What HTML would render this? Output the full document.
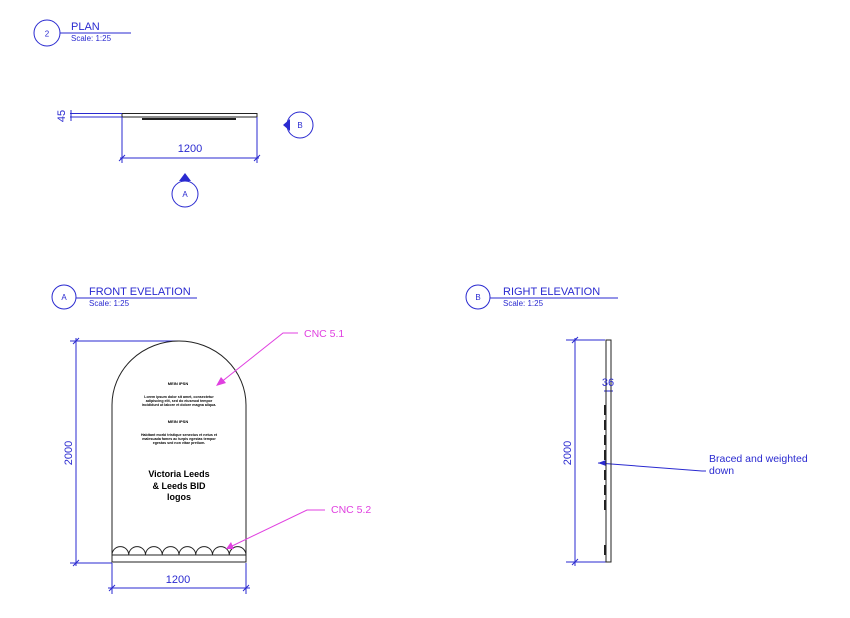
<!DOCTYPE html>
<html><head><style>
html,body{margin:0;padding:0;background:#fff;width:850px;height:618px;overflow:hidden}
svg{display:block;font-family:"Liberation Sans",Arial,sans-serif}
</style></head><body>
<svg width="850" height="618" viewBox="0 0 850 618" xmlns="http://www.w3.org/2000/svg">
<g stroke="#2a2ad0" fill="none" stroke-width="1">
<!-- plan title -->
<circle cx="47" cy="33" r="13"/>
<line x1="60" y1="33" x2="131" y2="33"/>
<!-- plan -->
<rect x="122" y="113.5" width="135" height="3.5" stroke="#222"/>
<line x1="70" y1="113.5" x2="122" y2="113.5"/>
<line x1="70" y1="117" x2="122" y2="117"/>
<line x1="71" y1="110" x2="71" y2="121"/>
<line x1="120" y1="158" x2="259" y2="158"/>
<line x1="122" y1="117" x2="122" y2="163"/>
<line x1="257" y1="117" x2="257" y2="163"/>
<line x1="119" y1="161" x2="125" y2="155"/>
<line x1="254" y1="161" x2="260" y2="155"/>
<circle cx="300" cy="125" r="13"/>
<circle cx="185" cy="194" r="13"/>
<!-- front elevation -->
<circle cx="64" cy="297" r="12"/>
<line x1="76" y1="298" x2="197" y2="298"/>
<line x1="76" y1="338" x2="76" y2="566"/>
<line x1="70" y1="341" x2="178" y2="341"/>
<line x1="70" y1="563" x2="112" y2="563"/>
<line x1="73" y1="344" x2="79" y2="338"/>
<line x1="73" y1="566" x2="79" y2="560"/>
<line x1="108" y1="588" x2="250" y2="588"/>
<line x1="112" y1="563" x2="112" y2="594"/>
<line x1="246" y1="563" x2="246" y2="594"/>
<line x1="109" y1="591" x2="115" y2="585"/>
<line x1="243" y1="591" x2="249" y2="585"/>
<!-- right elevation -->
<circle cx="478" cy="297" r="12"/>
<line x1="490" y1="298" x2="618" y2="298"/>
<line x1="575" y1="338" x2="575" y2="566"/>
<line x1="566" y1="340" x2="605" y2="340"/>
<line x1="566" y1="562" x2="606" y2="562"/>
<line x1="572" y1="343" x2="578" y2="337"/>
<line x1="572" y1="565" x2="578" y2="559"/>
<line x1="604" y1="391" x2="613" y2="391"/>
<line x1="606" y1="388" x2="606" y2="396"/>
<polyline points="598,463 702,471 706,471"/>
</g>
<g fill="#2a2ad0">
<path d="M283,125 L290,119 L290,131 Z"/>
<path d="M185,173 L179,181 L191,181 Z"/>
<path d="M598,463 L606,460 L606,466 Z"/>
</g>
<g fill="none" stroke="#222" stroke-width="1">
<line x1="142" y1="119" x2="236" y2="119" stroke-width="2"/>
<path d="M112,562 L112,405 A67,64 0 0 1 246,405 L246,562 Z"/>
<line x1="112" y1="555" x2="246" y2="555"/>
<path d="M112,555 a8.375,8.375 0 0 1 16.75,0 a8.375,8.375 0 0 1 16.75,0 a8.375,8.375 0 0 1 16.75,0 a8.375,8.375 0 0 1 16.75,0 a8.375,8.375 0 0 1 16.75,0 a8.375,8.375 0 0 1 16.75,0 a8.375,8.375 0 0 1 16.75,0 a8.375,8.375 0 0 1 16.75,0"/>
<rect x="606" y="340" width="5" height="222"/>
<path d="M605,405 v10 M605,420 v10 M605,435 v10 M605,450 v10 M605,470 v10 M605,485 v10 M605,500 v10 M605,545 v10" stroke-width="2"/>
</g>
<g stroke="#e040e0" fill="none" stroke-width="1">
<polyline points="298,333 283,333 220,383"/>
<polyline points="325,510 307,510 230,547"/>
</g>
<g fill="#e040e0">
<path d="M216,386 L221,377 L226,383 Z"/>
<path d="M226,549 L231,542 L234,549 Z"/>
</g>
<g fill="#2a2ad0">
<text x="47" y="36.5" font-size="8" text-anchor="middle">2</text>
<text x="71" y="30" font-size="11">PLAN</text>
<text x="71" y="41" font-size="8">Scale: 1:25</text>
<text x="190" y="152" font-size="11" text-anchor="middle">1200</text>
<text transform="translate(65,116) rotate(-90)" font-size="11" text-anchor="middle">45</text>
<text x="300" y="128" font-size="8" text-anchor="middle">B</text>
<text x="185" y="197" font-size="8" text-anchor="middle">A</text>
<text x="64" y="300" font-size="8" text-anchor="middle">A</text>
<text x="89" y="295" font-size="11">FRONT EVELATION</text>
<text x="89" y="306" font-size="8">Scale: 1:25</text>
<text transform="translate(72,453) rotate(-90)" font-size="11" text-anchor="middle">2000</text>
<text x="178" y="583" font-size="11" text-anchor="middle">1200</text>
<text x="478" y="300" font-size="8" text-anchor="middle">B</text>
<text x="503" y="295" font-size="11">RIGHT ELEVATION</text>
<text x="503" y="306" font-size="8">Scale: 1:25</text>
<text transform="translate(571,453) rotate(-90)" font-size="11" text-anchor="middle">2000</text>
<text x="608" y="386" font-size="11" text-anchor="middle">36</text>
<text x="709" y="462" font-size="10.5">Braced and weighted</text>
<text x="709" y="474" font-size="10.5">down</text>
</g>
<g fill="#e040e0" font-size="10.5">
<text x="304" y="337">CNC 5.1</text>
<text x="331" y="513">CNC 5.2</text>
</g>
<g fill="#000" text-anchor="middle" font-weight="bold">
<text x="178" y="385" font-size="4">MEIN IPSN</text>
<text x="179" y="398" font-size="3.6">Lorem ipsum dolor sit amet, consectetur</text>
<text x="179" y="402" font-size="3.6">adipiscing elit, sed do eiusmod tempor</text>
<text x="179" y="406" font-size="3.6">incididunt ut labore et dolore magna aliqua.</text>
<text x="178" y="423" font-size="4">MEIN IPSN</text>
<text x="179" y="436" font-size="3.6">Habitant morbi tristique senectus et netus et</text>
<text x="179" y="440" font-size="3.6">malesuada fames ac turpis egestas tempor</text>
<text x="179" y="444" font-size="3.6">egestas sed non vitae pretium.</text>
<text x="179" y="477" font-size="9">Victoria Leeds</text>
<text x="179" y="489" font-size="9">&amp; Leeds BID</text>
<text x="179" y="500" font-size="9">logos</text>
</g>
</svg>
</body></html>
